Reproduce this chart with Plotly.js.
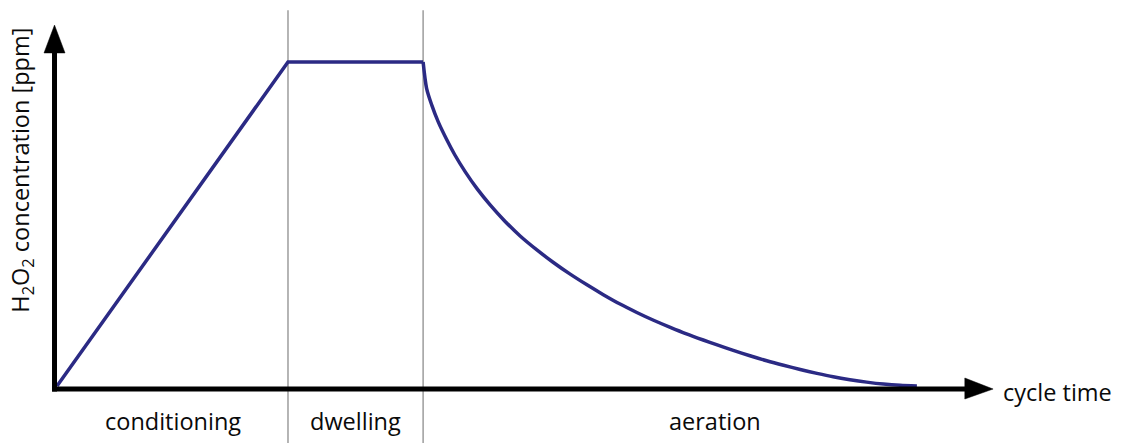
<!DOCTYPE html>
<html>
<head>
<meta charset="utf-8">
<script src="https://cdn.plot.ly/plotly-3.0.1.min.js"></script>
<style>html,body{margin:0;padding:0;background:#fff;}#chart{width:1122px;height:443px;}</style>
</head>
<body>
<div id="chart"></div>
<script>
// H2O2 concentration over a decontamination cycle (arbitrary units)
var rampTime = [0, 40, 63.4];
var rampConc = [0, 100, 100];
var decayTime = [63.4, 64.0, 64.9, 66.0, 67.5, 68.9, 70.7, 72.7, 75.0, 77.6, 80.2, 83.1, 85.9, 88.8, 91.7, 94.6, 97.5, 100.4, 103.3, 106.2, 109.0, 111.9, 114.2, 117.1, 120.0, 122.9, 125.8, 128.7, 131.6, 134.4, 137.3, 140.2, 143.1, 146.0, 148.9];
var decayConc = [100, 91.9, 86.7, 81.6, 76.0, 71.3, 66.1, 61.0, 55.9, 50.8, 46.3, 42.0, 38.2, 34.6, 31.3, 28.2, 25.3, 22.7, 20.3, 18.1, 16.1, 14.2, 12.75, 11.0, 9.35, 7.8, 6.4, 5.1, 3.9, 2.85, 1.95, 1.2, 0.6, 0.2, 0];
var phaseBoundaries = [40, 63.4];
var phaseNames = ["conditioning", "dwelling", "aeration"];
var phaseCenters = [20, 51.7, 113.9];
var xAxisTitle = "cycle time";
var yAxisTitle = "H<sub>2</sub>O<sub>2</sub> concentration [ppm]";

var FONT = "'Open Sans', 'Noto Sans', sans-serif";
var TEXT_SIZE = 23.5;
var TEXT_COLOR = "#0a0a0a";
var lineColor = "#2b2a84";

var shapes = [];
phaseBoundaries.forEach(function (b) {
  shapes.push({type: "line", xref: "x", yref: "y", x0: b, x1: b, y0: 116, y1: -18,
    line: {color: "#a3a3a3", width: 1.6}, layer: "below"});
});
shapes.push({type: "line", xref: "x", yref: "y", x0: -0.85, x1: 157.4, y0: -0.93, y1: -0.93, line: {color: "#000", width: 5}});
shapes.push({type: "line", xref: "x", yref: "y", x0: -0.43, x1: -0.43, y0: -1.7, y1: 103, line: {color: "#000", width: 5}});
shapes.push({type: "path", xref: "x", yref: "y", path: "M 157.2 2.47 L 162.1 -0.93 L 157.2 -4.01 Z", fillcolor: "#000", line: {color: "#000", width: 0.5}});
shapes.push({type: "path", xref: "x", yref: "y", path: "M -2.25 102.8 L -0.43 111.4 L 1.39 102.8 Z", fillcolor: "#000", line: {color: "#000", width: 0.5}});

var annotations = [];
phaseNames.forEach(function (n, i) {
  annotations.push({x: phaseCenters[i], y: -10.8, xref: "x", yref: "y", text: n, showarrow: false,
    font: {family: FONT, size: TEXT_SIZE, color: TEXT_COLOR}, xanchor: "center", yanchor: "middle"});
});
annotations.push({x: 163.5, y: -1.8, xref: "x", yref: "y", text: xAxisTitle, showarrow: false,
  font: {family: FONT, size: TEXT_SIZE, color: TEXT_COLOR}, xanchor: "left", yanchor: "middle"});
annotations.push({x: -6.1, y: 66.7, xref: "x", yref: "y", text: yAxisTitle, showarrow: false, textangle: -90,
  font: {family: FONT, size: TEXT_SIZE, color: TEXT_COLOR}, xanchor: "center", yanchor: "middle"});

var traces = [
  {x: rampTime, y: rampConc, type: "scatter", mode: "lines",
    line: {color: lineColor, width: 3.5}, hoverinfo: "skip", cliponaxis: false},
  {x: decayTime, y: decayConc, type: "scatter", mode: "lines",
    line: {color: lineColor, width: 3.5, shape: "spline", smoothing: 0.8}, hoverinfo: "skip", cliponaxis: false}
];

var layout = {
  width: 1122, height: 443,
  margin: {l: 0, r: 0, t: 0, b: 0},
  paper_bgcolor: "#fff", plot_bgcolor: "#fff",
  showlegend: false,
  xaxis: {range: [-9.870, 184.42], visible: false, fixedrange: true},
  yaxis: {range: [-17.59, 119.14], visible: false, fixedrange: true},
  shapes: shapes,
  annotations: annotations
};
Plotly.newPlot("chart", traces, layout, {staticPlot: true, displayModeBar: false});
</script>
</body>
</html>
